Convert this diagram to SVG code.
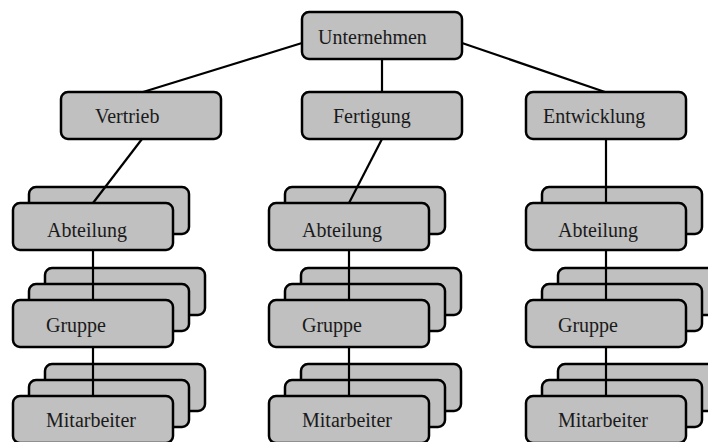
<svg xmlns="http://www.w3.org/2000/svg" width="708" height="442" viewBox="0 0 708 442">
  <style>
    .box { fill: #c0c0c0; stroke: #000; stroke-width: 2.5; }
    .lbl { font-family: "Liberation Serif", "Times New Roman", serif; font-size: 20px; fill: #1a1a1a; }
    .wire { stroke: #000; stroke-width: 2.2; fill: none; }
  </style>
  <defs>
    <rect id="card" class="box" width="160" height="47" rx="7" ry="7"/>
  </defs>
  <rect width="708" height="442" fill="#fff"/>

  <!-- top level -->
  <g id="unternehmen">
    <use href="#card" x="302" y="12"/>
    <text class="lbl" x="318" y="44">Unternehmen</text>
  </g>
  <g id="vertrieb">
    <use href="#card" x="61" y="92"/>
    <text class="lbl" x="95" y="123">Vertrieb</text>
  </g>
  <g id="fertigung">
    <use href="#card" x="302" y="92"/>
    <text class="lbl" x="333" y="123">Fertigung</text>
  </g>
  <g id="entwicklung">
    <use href="#card" x="526" y="92"/>
    <text class="lbl" x="543" y="123">Entwicklung</text>
  </g>

  <!-- Abteilung stacks -->
  <g id="abteilung-vertrieb">
    <use href="#card" x="29" y="187"/>
    <use href="#card" x="13" y="203"/>
    <text class="lbl" x="47" y="237">Abteilung</text>
  </g>
  <g id="abteilung-fertigung">
    <use href="#card" x="285" y="187"/>
    <use href="#card" x="269" y="203"/>
    <text class="lbl" x="302" y="237">Abteilung</text>
  </g>
  <g id="abteilung-entwicklung">
    <use href="#card" x="542" y="187"/>
    <use href="#card" x="526" y="203"/>
    <text class="lbl" x="558" y="237">Abteilung</text>
  </g>

  <!-- Gruppe stacks -->
  <g id="gruppe-vertrieb">
    <use href="#card" x="45" y="268"/>
    <use href="#card" x="29" y="284"/>
    <use href="#card" x="13" y="300"/>
    <text class="lbl" x="46" y="332">Gruppe</text>
  </g>
  <g id="gruppe-fertigung">
    <use href="#card" x="301" y="268"/>
    <use href="#card" x="285" y="284"/>
    <use href="#card" x="269" y="300"/>
    <text class="lbl" x="302" y="332">Gruppe</text>
  </g>
  <g id="gruppe-entwicklung">
    <use href="#card" x="558" y="268"/>
    <use href="#card" x="542" y="284"/>
    <use href="#card" x="526" y="300"/>
    <text class="lbl" x="558" y="332">Gruppe</text>
  </g>

  <!-- Mitarbeiter stacks -->
  <g id="mitarbeiter-vertrieb">
    <use href="#card" x="45" y="364"/>
    <use href="#card" x="29" y="380"/>
    <use href="#card" x="13" y="396"/>
    <text class="lbl" x="46" y="427">Mitarbeiter</text>
  </g>
  <g id="mitarbeiter-fertigung">
    <use href="#card" x="301" y="364"/>
    <use href="#card" x="285" y="380"/>
    <use href="#card" x="269" y="396"/>
    <text class="lbl" x="302" y="427">Mitarbeiter</text>
  </g>
  <g id="mitarbeiter-entwicklung">
    <use href="#card" x="558" y="364"/>
    <use href="#card" x="542" y="380"/>
    <use href="#card" x="526" y="396"/>
    <text class="lbl" x="558" y="427">Mitarbeiter</text>
  </g>

  <!-- connectors -->
  <g id="connectors" class="wire">
    <line x1="302" y1="43" x2="143" y2="92"/>
    <line x1="382" y1="59" x2="382" y2="92"/>
    <line x1="462" y1="43" x2="605" y2="92"/>
    <line x1="142" y1="139" x2="93" y2="203"/>
    <line x1="382" y1="139" x2="349" y2="203"/>
    <line x1="606" y1="139" x2="606" y2="203"/>
    <line x1="93" y1="250" x2="93" y2="300"/>
    <line x1="349" y1="250" x2="349" y2="300"/>
    <line x1="606" y1="250" x2="606" y2="300"/>
    <line x1="93" y1="347" x2="93" y2="396"/>
    <line x1="349" y1="347" x2="349" y2="396"/>
    <line x1="606" y1="347" x2="606" y2="396"/>
  </g>
</svg>
